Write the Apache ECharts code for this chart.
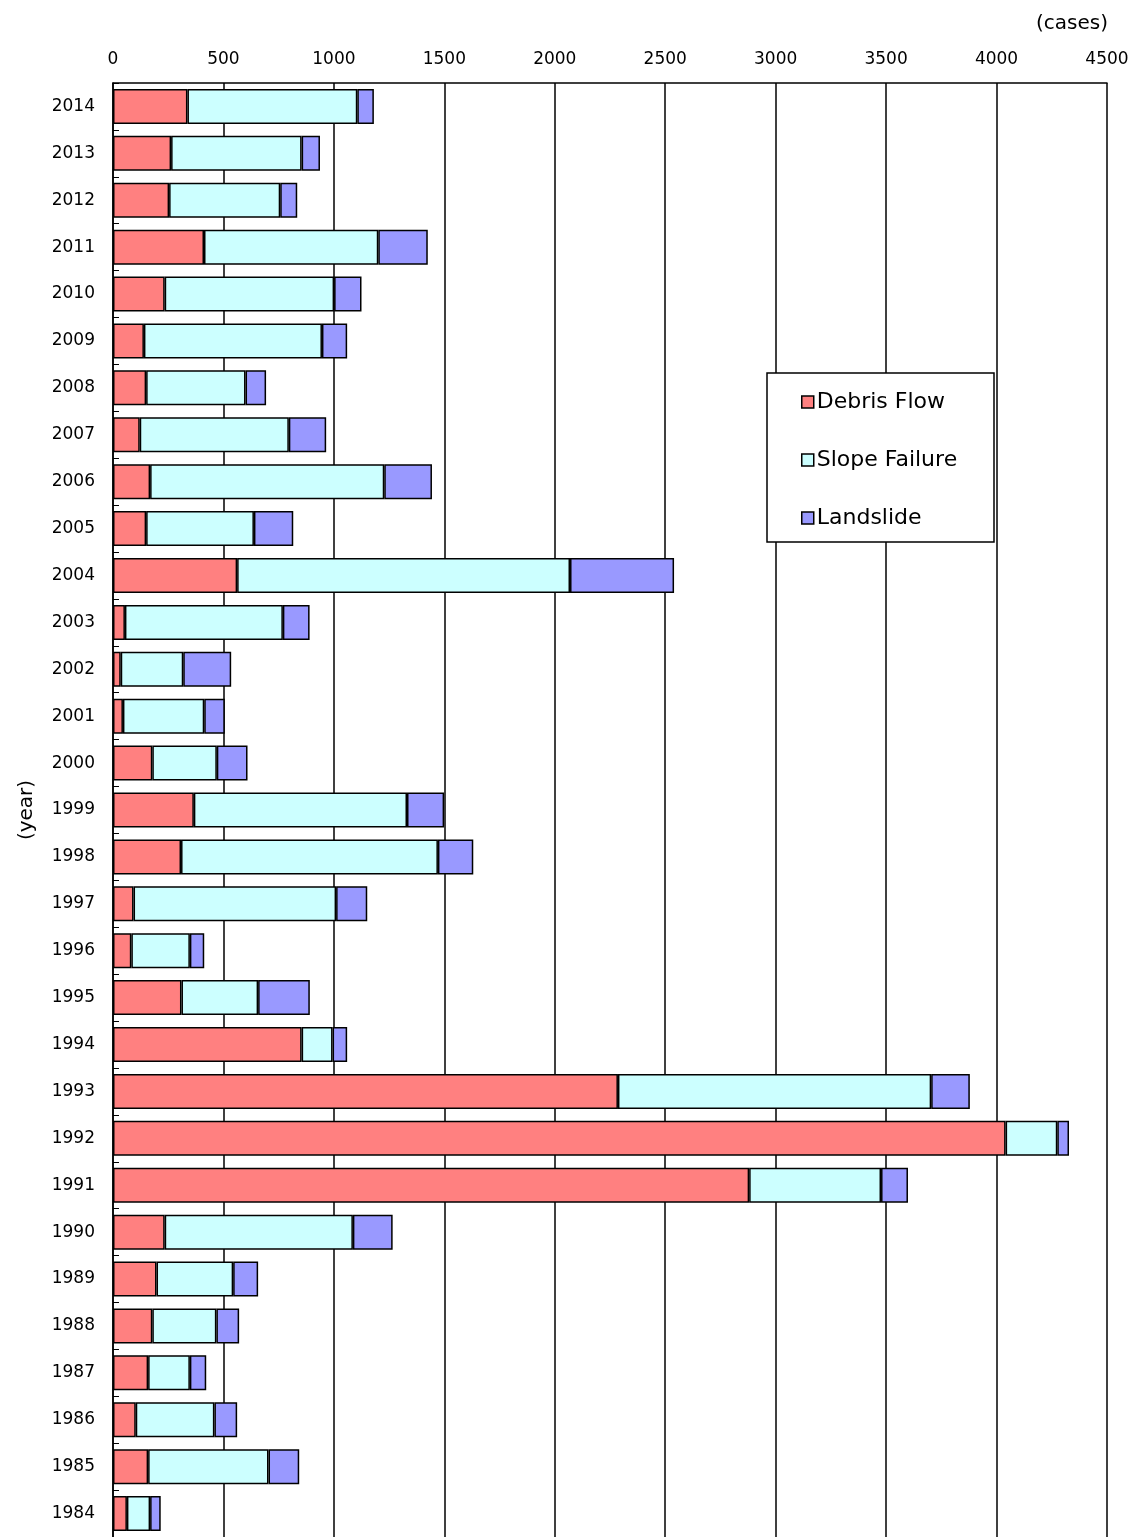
<!DOCTYPE html>
<html>
<head>
<meta charset="utf-8">
<script src="https://cdn.jsdelivr.net/npm/echarts@6/dist/echarts.min.js"></script>
<style>
  html, body { margin: 0; padding: 0; background: #fff; }
  #chart { width: 1141px; height: 1537px; }
</style>
</head>
<body>
<div id="chart"></div>
<script>
// Sediment disaster cases per year, by type
const years = ['2014','2013','2012','2011','2010','2009','2008','2007','2006','2005','2004','2003','2002','2001','2000',
               '1999','1998','1997','1996','1995','1994','1993','1992','1991','1990','1989','1988','1987','1986','1985','1984'];
const debrisFlow   = [337, 263, 254, 412, 234, 140, 150, 121, 168, 150, 562, 54, 35, 45, 178,
                      366, 308, 93, 83, 310, 854, 2286, 4041, 2880, 234, 197, 178, 159, 103, 159, 63];
const slopeFailure = [769, 591, 503, 789, 767, 806, 450, 675, 1060, 488, 1507, 715, 283, 368, 292,
                      965, 1163, 917, 265, 347, 140, 1418, 234, 597, 852, 347, 290, 189, 356, 545, 105];
const landslide    = [75, 83, 77, 224, 124, 114, 93, 169, 216, 178, 471, 121, 217, 93, 139,
                      168, 160, 141, 65, 234, 66, 175, 53, 122, 180, 113, 103, 74, 103, 139, 48];
const seriesNames = ['Debris Flow', 'Slope Failure', 'Landslide'];
const seriesColors = ['#FF8080', '#CCFFFF', '#9999FF'];

const FONT = 'DejaVu Sans';
const chart = echarts.init(document.getElementById('chart'), null, { renderer: 'canvas' });

function barSeries(name, data, color) {
  return {
    name: name,
    type: 'bar',
    stack: 'total',
    data: data,
    barWidth: 35,
    itemStyle: { color: color, borderColor: '#000', borderWidth: 1.5 },
    emphasis: { disabled: true }
  };
}

chart.setOption({
  animation: false,
  backgroundColor: '#fff',
  title: {
    text: '(cases)',
    right: 28,
    top: 9,
    textStyle: { fontFamily: FONT, fontSize: 20, fontWeight: 'normal', color: '#000' }
  },
  grid: { left: 113, top: 83, width: 994, height: 1459, containLabel: false },
  xAxis: {
    type: 'value',
    position: 'top',
    min: 0,
    max: 4500,
    interval: 500,
    axisLine: { show: true, lineStyle: { color: '#000', width: 1.5 } },
    axisTick: { show: false },
    axisLabel: { margin: 15, fontFamily: FONT, fontSize: 17, color: '#000', formatter: (v) => String(v) },
    splitLine: { show: true, lineStyle: { color: '#000', width: 1.5 } }
  },
  yAxis: {
    type: 'category',
    data: years,
    inverse: true,
    name: '(year)',
    nameLocation: 'middle',
    nameRotate: 90,
    nameGap: 76,
    nameTextStyle: { fontFamily: FONT, fontSize: 20, color: '#000' },
    axisLine: { show: true, lineStyle: { color: '#000', width: 1.5 } },
    axisTick: { show: true, inside: true, length: 6, lineStyle: { color: '#000', width: 1 } },
    axisLabel: { margin: 18, fontFamily: FONT, fontSize: 17, color: '#000' },
    splitLine: { show: false }
  },
  legend: {
    orient: 'vertical',
    left: 801,
    top: 391,
    padding: 0,
    itemGap: 36,
    itemWidth: 12,
    itemHeight: 12,
    icon: 'rect',
    itemStyle: { borderColor: '#000', borderWidth: 1.5 },
    textStyle: { fontFamily: FONT, fontSize: 22, color: '#000', padding: [0, 0, 0, -2] },
    data: seriesNames,
    z: 5
  },
  graphic: [
    {
      type: 'rect',
      z: 4,
      shape: { x: 767, y: 373, width: 227, height: 169 },
      style: { fill: '#fff', stroke: '#000', lineWidth: 1.5 }
    }
  ],
  series: [
    barSeries(seriesNames[0], debrisFlow, seriesColors[0]),
    barSeries(seriesNames[1], slopeFailure, seriesColors[1]),
    barSeries(seriesNames[2], landslide, seriesColors[2])
  ]
});
</script>
</body>
</html>
